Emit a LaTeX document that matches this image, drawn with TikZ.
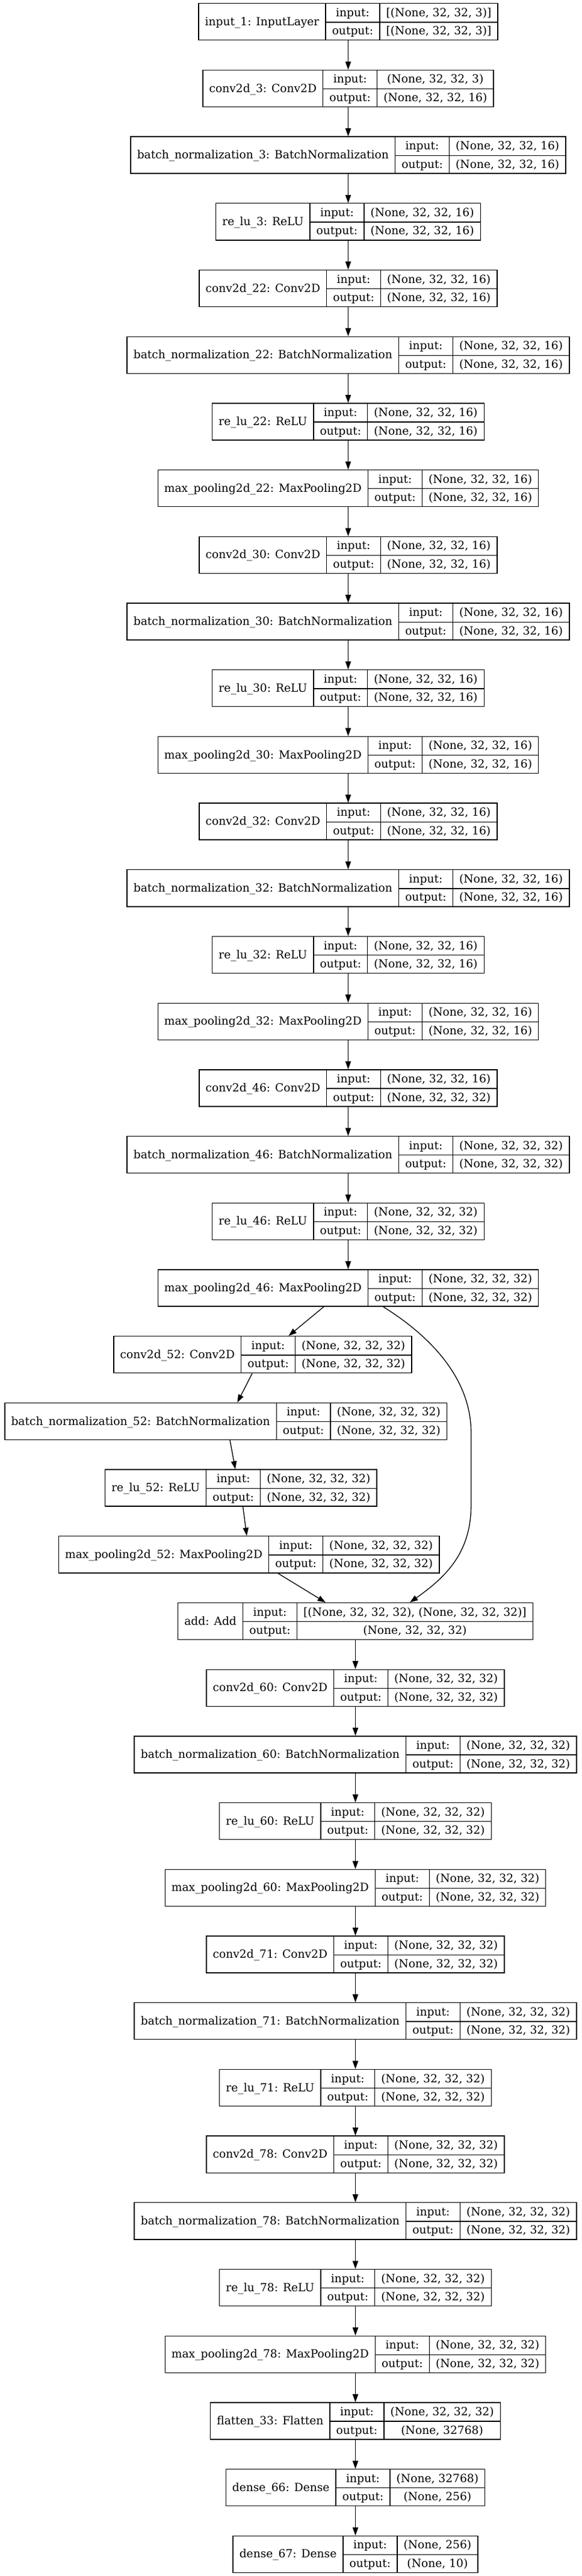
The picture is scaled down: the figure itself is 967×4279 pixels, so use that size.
\documentclass[tikz,border=0pt]{standalone}
\usepackage{fontspec}
\setmainfont{DejaVu Serif}
\usetikzlibrary{arrows.meta,calc}

\setlength{\arrayrulewidth}{1pt}
\setlength{\tabcolsep}{8pt}
\newcommand{\rowstrut}{\rule[-6.7pt]{0pt}{22.9pt}}
% one record: name | input:/output: | shapes
\newcommand{\layer}[3]{\begin{tabular}{c|c|c}\smash{\raisebox{-11.3pt}{#1}}\rowstrut & input: & #2\\ \cline{2-3}\rowstrut & output: & #3\end{tabular}}

\tikzset{every picture/.style={line width=1pt}}
\tikzset{
  lyr/.style={draw, inner sep=0pt, font=\fontsize{14}{17}\selectfont},
  link/.style={-{Triangle[length=10pt,width=7pt]}}
}

\begin{document}
\begin{tikzpicture}[x=0.75pt,y=0.75pt,yscale=-1,xscale=1]
\useasboundingbox (0,0) rectangle (967,4279);

% Main chain
\node[lyr] (in1) at (578.5,36.2) {\layer{input\_1: InputLayer}{[(None, 32, 32, 3)]}{[(None, 32, 32, 3)]}};
\node[lyr] (c3) at (578.5,146.9) {\layer{conv2d\_3: Conv2D}{(None, 32, 32, 3)}{(None, 32, 32, 16)}};
\node[lyr] (bn3) at (578.5,257.6) {\layer{batch\_normalization\_3: BatchNormalization}{(None, 32, 32, 16)}{(None, 32, 32, 16)}};
\node[lyr] (r3) at (578.5,368.3) {\layer{re\_lu\_3: ReLU}{(None, 32, 32, 16)}{(None, 32, 32, 16)}};
\node[lyr] (c22) at (578.5,479.0) {\layer{conv2d\_22: Conv2D}{(None, 32, 32, 16)}{(None, 32, 32, 16)}};
\node[lyr] (bn22) at (578.5,589.7) {\layer{batch\_normalization\_22: BatchNormalization}{(None, 32, 32, 16)}{(None, 32, 32, 16)}};
\node[lyr] (r22) at (578.5,700.4) {\layer{re\_lu\_22: ReLU}{(None, 32, 32, 16)}{(None, 32, 32, 16)}};
\node[lyr] (mp22) at (578.5,811.1) {\layer{max\_pooling2d\_22: MaxPooling2D}{(None, 32, 32, 16)}{(None, 32, 32, 16)}};
\node[lyr] (c30) at (578.5,921.8) {\layer{conv2d\_30: Conv2D}{(None, 32, 32, 16)}{(None, 32, 32, 16)}};
\node[lyr] (bn30) at (578.5,1032.5) {\layer{batch\_normalization\_30: BatchNormalization}{(None, 32, 32, 16)}{(None, 32, 32, 16)}};
\node[lyr] (r30) at (578.5,1143.2) {\layer{re\_lu\_30: ReLU}{(None, 32, 32, 16)}{(None, 32, 32, 16)}};
\node[lyr] (mp30) at (578.5,1253.9) {\layer{max\_pooling2d\_30: MaxPooling2D}{(None, 32, 32, 16)}{(None, 32, 32, 16)}};
\node[lyr] (c32) at (578.5,1364.6) {\layer{conv2d\_32: Conv2D}{(None, 32, 32, 16)}{(None, 32, 32, 16)}};
\node[lyr] (bn32) at (578.5,1475.3) {\layer{batch\_normalization\_32: BatchNormalization}{(None, 32, 32, 16)}{(None, 32, 32, 16)}};
\node[lyr] (r32) at (578.5,1586.0) {\layer{re\_lu\_32: ReLU}{(None, 32, 32, 16)}{(None, 32, 32, 16)}};
\node[lyr] (mp32) at (578.5,1696.7) {\layer{max\_pooling2d\_32: MaxPooling2D}{(None, 32, 32, 16)}{(None, 32, 32, 16)}};
\node[lyr] (c46) at (578.5,1807.4) {\layer{conv2d\_46: Conv2D}{(None, 32, 32, 16)}{(None, 32, 32, 32)}};
\node[lyr] (bn46) at (578.5,1918.1) {\layer{batch\_normalization\_46: BatchNormalization}{(None, 32, 32, 32)}{(None, 32, 32, 32)}};
\node[lyr] (r46) at (578.5,2028.8) {\layer{re\_lu\_46: ReLU}{(None, 32, 32, 32)}{(None, 32, 32, 32)}};
\node[lyr] (mp46) at (578.5,2139.5) {\layer{max\_pooling2d\_46: MaxPooling2D}{(None, 32, 32, 32)}{(None, 32, 32, 32)}};

% Branch
\node[lyr] (c52) at (436.5,2250.2) {\layer{conv2d\_52: Conv2D}{(None, 32, 32, 32)}{(None, 32, 32, 32)}};
\node[lyr] (bn52) at (375.2,2360.9) {\layer{batch\_normalization\_52: BatchNormalization}{(None, 32, 32, 32)}{(None, 32, 32, 32)}};
\node[lyr] (r52) at (400.3,2471.6) {\layer{re\_lu\_52: ReLU}{(None, 32, 32, 32)}{(None, 32, 32, 32)}};
\node[lyr] (mp52) at (413.7,2582.3) {\layer{max\_pooling2d\_52: MaxPooling2D}{(None, 32, 32, 32)}{(None, 32, 32, 32)}};

% After the merge
\node[lyr] (add) at (590.5,2693.0) {\layer{add: Add}{[(None, 32, 32, 32), (None, 32, 32, 32)]}{(None, 32, 32, 32)}};
\node[lyr] (c60) at (590.5,2803.7) {\layer{conv2d\_60: Conv2D}{(None, 32, 32, 32)}{(None, 32, 32, 32)}};
\node[lyr] (bn60) at (590.5,2914.4) {\layer{batch\_normalization\_60: BatchNormalization}{(None, 32, 32, 32)}{(None, 32, 32, 32)}};
\node[lyr] (r60) at (590.5,3025.1) {\layer{re\_lu\_60: ReLU}{(None, 32, 32, 32)}{(None, 32, 32, 32)}};
\node[lyr] (mp60) at (590.5,3135.8) {\layer{max\_pooling2d\_60: MaxPooling2D}{(None, 32, 32, 32)}{(None, 32, 32, 32)}};
\node[lyr] (c71) at (590.5,3246.5) {\layer{conv2d\_71: Conv2D}{(None, 32, 32, 32)}{(None, 32, 32, 32)}};
\node[lyr] (bn71) at (590.5,3357.2) {\layer{batch\_normalization\_71: BatchNormalization}{(None, 32, 32, 32)}{(None, 32, 32, 32)}};
\node[lyr] (r71) at (590.5,3467.9) {\layer{re\_lu\_71: ReLU}{(None, 32, 32, 32)}{(None, 32, 32, 32)}};
\node[lyr] (c78) at (590.5,3578.6) {\layer{conv2d\_78: Conv2D}{(None, 32, 32, 32)}{(None, 32, 32, 32)}};
\node[lyr] (bn78) at (590.5,3689.3) {\layer{batch\_normalization\_78: BatchNormalization}{(None, 32, 32, 32)}{(None, 32, 32, 32)}};
\node[lyr] (r78) at (590.5,3800.0) {\layer{re\_lu\_78: ReLU}{(None, 32, 32, 32)}{(None, 32, 32, 32)}};
\node[lyr] (mp78) at (590.5,3910.7) {\layer{max\_pooling2d\_78: MaxPooling2D}{(None, 32, 32, 32)}{(None, 32, 32, 32)}};
\node[lyr] (fl33) at (590.5,4021.4) {\layer{flatten\_33: Flatten}{(None, 32, 32, 32)}{(None, 32768)}};
\node[lyr] (d66) at (590.5,4132.1) {\layer{dense\_66: Dense}{(None, 32768)}{(None, 256)}};
\node[lyr] (d67) at (590.5,4242.8) {\layer{dense\_67: Dense}{(None, 256)}{(None, 10)}};

% Straight links
\foreach \a/\b in {in1/c3,c3/bn3,bn3/r3,r3/c22,c22/bn22,bn22/r22,r22/mp22,mp22/c30,c30/bn30,bn30/r30,r30/mp30,mp30/c32,c32/bn32,bn32/r32,r32/mp32,mp32/c46,c46/bn46,bn46/r46,r46/mp46,add/c60,c60/bn60,bn60/r60,r60/mp60,mp60/c71,c71/bn71,bn71/r71,r71/c78,c78/bn78,bn78/r78,r78/mp78,mp78/fl33,fl33/d66,d66/d67}
  \draw[link] (\a.south) -- (\b.north);

% Branch links
\draw[link] ($(mp46.south)+(-40.6,0)$) -- ($(c52.north)+(43,0)$);
\draw[link] ($(c52.south)+(-17.5,0)$) -- ($(bn52.north)+(19.1,0)$);
\draw[link] ($(bn52.south)+(6.8,0)$) -- ($(r52.north)+(-9.3,0)$);
\draw[link] ($(r52.south)+(3.3,0)$) -- ($(mp52.north)+(-3.7,0)$);
\draw[link] ($(mp52.south)+(48.3,0)$) -- ($(add.north)+(-49.5,0)$);

% Skip connection
\draw[link] ($(mp46.south)+(58.2,0)$) .. controls (700,2210) and (782.7,2280) .. (782.7,2380) -- (782.7,2500) .. controls (782.7,2580) and (740,2620) .. ($(add.north)+(90.5,0)$);

\end{tikzpicture}
\end{document}
